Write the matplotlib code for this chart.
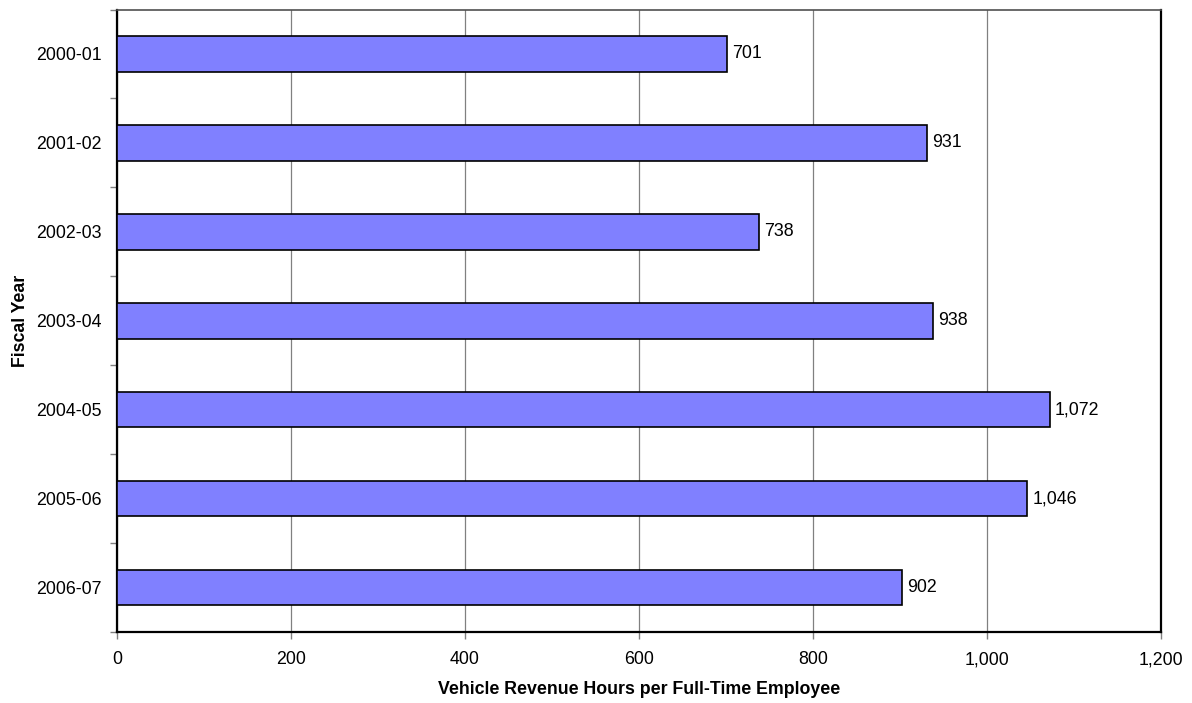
import matplotlib
matplotlib.use("Agg")
import matplotlib.pyplot as plt
import numpy as np

years = ["2000-01", "2001-02", "2002-03", "2003-04", "2004-05", "2005-06", "2006-07"]
hours = [701, 931, 738, 938, 1072, 1046, 902]
x_ticks = [0, 200, 400, 600, 800, 1000, 1200]

plt.rcParams["font.family"] = ["Liberation Sans", "DejaVu Sans"]
FS = 12.8

fig = plt.figure(figsize=(11.92, 7.03), dpi=100)
ax = fig.add_axes([117 / 1192, 1 - 632 / 703, (1161 - 117) / 1192, (632 - 9.5) / 703])

pos = np.arange(len(years))
ax.barh(pos, hours, height=0.4, color="#8080FF", edgecolor="black", linewidth=1.2, zorder=3)

for p, v in zip(pos, hours):
    ax.text(v + 6, p, f"{v:,}", va="center", ha="left", fontsize=FS, color="black", zorder=4)

ax.set_xlim(0, 1200)
ax.set_ylim(len(years) - 0.5, -0.5)
ax.set_xticks(x_ticks)
ax.set_xticklabels([f"{t:,}" for t in x_ticks], fontsize=FS)
ax.xaxis.grid(True, color="#808080", linewidth=0.9, zorder=0)
ax.set_axisbelow(True)

# category labels at bar centers, tick marks at category boundaries
ax.set_yticks(pos)
ax.set_yticklabels(years, fontsize=FS)
ax.tick_params(axis="y", which="major", length=0, pad=11)
ax.set_yticks(np.arange(-0.5, len(years) + 0.5, 1), minor=True)
ax.tick_params(axis="y", which="minor", length=5, width=1, color="#808080", direction="out")
ax.tick_params(axis="x", which="major", length=5, width=1, color="#808080", direction="out", pad=9)

for side in ["left", "bottom", "right"]:
    ax.spines[side].set_linewidth(1.6)
    ax.spines[side].set_color("black")
ax.spines["top"].set_linewidth(1.2)
ax.spines["top"].set_color("#505050")

ax.set_xlabel("Vehicle Revenue Hours per Full-Time Employee", fontsize=FS, fontweight="bold", labelpad=9)
ax.set_ylabel("Fiscal Year", fontsize=FS, fontweight="bold", labelpad=5)

fig.savefig("out.png", dpi=100)
